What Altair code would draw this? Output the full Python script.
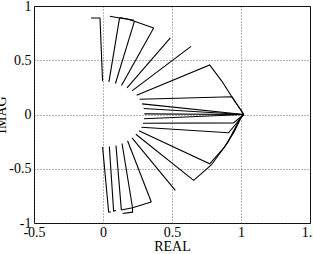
import altair as alt
import pandas as pd

# Each polyline: list of (real, imag) points
ray_up0 = [(-0.087, 0.890), (-0.022, 0.890), (-0.003, 0.307)]
top_arc = [(0.050, 0.905), (0.120, 0.890), (0.180, 0.878), (0.228, 0.860), (0.367, 0.798)]
top_arc2 = [(0.120, 0.894), (0.225, 0.868)]
ray_up1 = [(0.043, 0.300), (0.120, 0.890)]
ray_up2 = [(0.090, 0.286), (0.228, 0.860)]
ray_up3 = [(0.134, 0.268), (0.367, 0.798)]
ray_up4 = [(0.174, 0.245), (0.488, 0.706)]
ray_up5 = [(0.210, 0.218), (0.638, 0.628)]
ray_up6 = [(0.244, 0.178), (0.773, 0.456), (0.862, 0.306), (0.946, 0.138), (1.005, 0.030), (1.020, 0.000)]
ray_up7 = [(0.265, 0.140), (0.935, 0.163), (1.020, 0.000)]
ray_m1 = [(0.283, 0.098), (1.020, 0.000)]
ray_m2 = [(0.295, 0.055), (1.020, 0.000)]
ray_m3 = [(0.300, 0.006), (1.020, 0.000)]
ray_m4 = [(0.297, -0.039), (1.020, 0.000)]
ray_m5 = [(0.290, -0.080), (0.946, -0.077), (1.020, 0.000)]
ray_m6 = [(0.278, -0.118), (0.910, -0.168), (1.020, 0.000)]
ray_lo8 = [(0.260, -0.150), (0.773, -0.454), (0.880, -0.300), (0.950, -0.160), (1.000, -0.030), (1.020, 0.000)]
ray_lo7 = [(0.238, -0.182), (0.657, -0.607), (0.785, -0.465), (0.905, -0.256), (0.995, -0.030), (1.020, 0.000)]
ray_lo6 = [(0.210, -0.215), (0.524, -0.700)]
ray_lo5 = [(0.178, -0.242), (0.350, -0.807)]
ray_lo4 = [(0.138, -0.267), (0.214, -0.859), (0.214, -0.900), (0.142, -0.912)]
ray_lo3 = [(0.094, -0.285), (0.133, -0.880)]
ray_lo2 = [(0.046, -0.296), (0.077, -0.890), (0.094, -0.884)]
ray_lo1 = [(-0.003, -0.300), (0.041, -0.899), (0.058, -0.899)]
bottom_arc = [(0.133, -0.880), (0.214, -0.859), (0.350, -0.807)]

x_ticks = [-0.5, 0, 0.5, 1, 1.5]
y_ticks = [-1, -0.5, 0, 0.5, 1]

polylines = {
    "ray_up0": ray_up0, "top_arc": top_arc, "top_arc2": top_arc2,
    "ray_up1": ray_up1, "ray_up2": ray_up2, "ray_up3": ray_up3,
    "ray_up4": ray_up4, "ray_up5": ray_up5, "ray_up6": ray_up6,
    "ray_up7": ray_up7, "ray_m1": ray_m1, "ray_m2": ray_m2,
    "ray_m3": ray_m3, "ray_m4": ray_m4, "ray_m5": ray_m5, "ray_m6": ray_m6,
    "ray_lo8": ray_lo8, "ray_lo7": ray_lo7, "ray_lo6": ray_lo6,
    "ray_lo5": ray_lo5, "ray_lo4": ray_lo4, "ray_lo3": ray_lo3,
    "ray_lo2": ray_lo2, "ray_lo1": ray_lo1, "bottom_arc": bottom_arc,
}

rows = []
for name, pts in polylines.items():
    for i, (xv, yv) in enumerate(pts):
        rows.append({"line": name, "i": i, "re": xv, "im": yv})
df = pd.DataFrame(rows)

font = "Liberation Serif"

chart = alt.Chart(df).mark_line(color="black", strokeWidth=1.1).encode(
    x=alt.X("re:Q", title="REAL",
            scale=alt.Scale(domain=[-0.5, 1.5], nice=False, zero=False),
            axis=alt.Axis(values=x_ticks, labelExpr="'' + datum.value",
                          labelPadding=2, titlePadding=0)),
    y=alt.Y("im:Q", title="IMAG",
            scale=alt.Scale(domain=[-1, 1], nice=False, zero=False),
            axis=alt.Axis(values=y_ticks, labelExpr="'' + datum.value",
                          labelPadding=3, titlePadding=0)),
    detail="line:N",
    order="i:Q",
).properties(
    width=276, height=217,
    padding={"left": 34, "top": 6, "right": 3, "bottom": 31},
    autosize=alt.AutoSizeParams(type="none"),
    background="white",
).configure_view(
    stroke="black", strokeWidth=1
).configure_axis(
    grid=True, gridDash=[1, 2], gridColor="#444", gridWidth=0.8,
    ticks=False, domain=False,
    labelFont=font, labelFontSize=14, labelColor="black",
    labelFlush=False, labelOverlap=False,
    titleFont=font, titleFontSize=14, titleFontWeight="normal", titleColor="black",
)

chart.save("out.html", embed_options={"renderer": "svg", "actions": False})
